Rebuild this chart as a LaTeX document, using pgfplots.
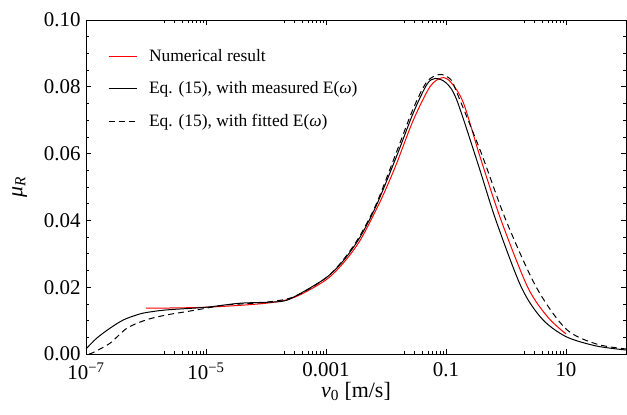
\documentclass[border=0pt]{standalone}
\usepackage{pgfplots}
\pgfplotsset{compat=1.18}
\usepackage{fontspec}
\setmainfont{Liberation Serif}
\begin{document}
\begin{tikzpicture}
\useasboundingbox (0,0) rectangle (627bp,415bp);
\begin{axis}[
  at={(86bp,61bp)}, anchor=south west,
  scale only axis, width=540bp, height=334bp,
  xmode=log, xmin=1e-7, xmax=100, ymin=0, ymax=0.1,
  xtick={1e-7,1e-5,1e-3,1e-1,10},
  xticklabels={10\textsuperscript{−7},10\textsuperscript{−5},0.001,0.1,10},
  minor xtick={2e-6,3e-6,4e-6,5e-6,6e-6,7e-6,8e-6,9e-6,
               2e-4,3e-4,4e-4,5e-4,6e-4,7e-4,8e-4,9e-4,
               2e-2,3e-2,4e-2,5e-2,6e-2,7e-2,8e-2,9e-2,
               2,3,4,5,6,7,8,9},
  ytick={0,0.02,0.04,0.06,0.08,0.1},
  yticklabels={0.00,0.02,0.04,0.06,0.08,0.10},
  minor ytick={0.005,0.01,0.015,0.025,0.03,0.035,0.045,0.05,0.055,0.065,0.07,0.075,0.085,0.09,0.095},
  tick align=inside,
  major tick length=5bp, minor tick length=3bp,
  tick style={black, line width=0.7pt},
  axis line style={line width=0.9pt},
  ticklabel style={font=\fontsize{21}{24}\selectfont},
  xticklabel style={yshift=-5bp},
  yticklabel style={xshift=-2bp},
  xlabel={\textit{v}\textsubscript{0} [m/s]},
  ylabel={\textit{μ}\textsubscript{\textit{R}}},
  label style={font=\fontsize{22}{26}\selectfont},
  xlabel style={yshift=4bp},
  ylabel style={yshift=10bp},
  legend style={draw=none, fill=none, at={(0.035,0.925)}, anchor=north west,
    font=\fontsize{17.5}{20}\selectfont, row sep=15bp,
    /tikz/every odd column/.append style={column sep=10bp}},
  legend cell align=left,
  legend image code/.code={\draw[#1] (0bp,0bp) -- (28bp,0bp);},
]
\addlegendimage{red, line width=1pt}
\addlegendentry{Numerical result}
\addlegendimage{black, line width=1pt}
\addlegendentry{Eq. (15), with measured E(\textit{ω})}
\addlegendimage{black, line width=1pt, dash pattern=on 6bp off 4bp}
\addlegendentry{Eq. (15), with fitted E(\textit{ω})}
\addplot[red, line width=1pt, smooth, forget plot] table {
x y
1e-6 0.0137
1e-5 0.0140
1e-4 0.0152
3e-4 0.0170
1e-3 0.0222
2e-3 0.0275
3.7e-3 0.034
7e-3 0.0435
1e-2 0.0495
1.5e-2 0.057
2.85e-2 0.070
5.4e-2 0.080
8.5e-2 0.0827
0.12 0.0814
0.195 0.0752
0.37 0.059
0.83 0.040
2.3 0.020
5 0.011
10 0.006
};
\addplot[black, line width=1pt, smooth, forget plot] table {
x y
1e-7 0.0015
1.5e-7 0.0047
2.5e-7 0.0077
4.2e-7 0.0102
7e-7 0.0117
1e-6 0.0124
2.2e-6 0.0132
1e-5 0.0140
3.7e-5 0.0152
1.7e-4 0.0157
3e-4 0.0172
1e-3 0.0228
2e-3 0.0282
3.7e-3 0.035
7e-3 0.0447
1.5e-2 0.0592
2.85e-2 0.0722
4.8e-2 0.0807
6.6e-2 0.0825
0.1 0.0812
0.15 0.0762
0.34 0.057
0.68 0.040
1.8 0.020
4 0.0105
10 0.0052
32 0.0024
100 0.0012
};
\addplot[black, line width=1pt, smooth, forget plot, dash pattern=on 6bp off 4bp] table {
x y
1.12e-7 0.0
1.3e-7 0.0004
2.5e-7 0.0032
4.8e-7 0.0077
1e-6 0.0102
2.2e-6 0.0117
4.8e-6 0.0127
1e-5 0.0137
2.2e-5 0.0147
1e-4 0.0155
3e-4 0.0172
1e-3 0.0228
2e-3 0.0285
3.7e-3 0.0355
7e-3 0.0452
1.5e-2 0.0605
2.85e-2 0.0735
4.8e-2 0.0815
7.9e-2 0.0837
0.12 0.0822
0.15 0.0785
0.39 0.060
1.0 0.040
3.2 0.020
10 0.0075
32 0.003
100 0.0015
};
\end{axis}
\end{tikzpicture}
\end{document}
